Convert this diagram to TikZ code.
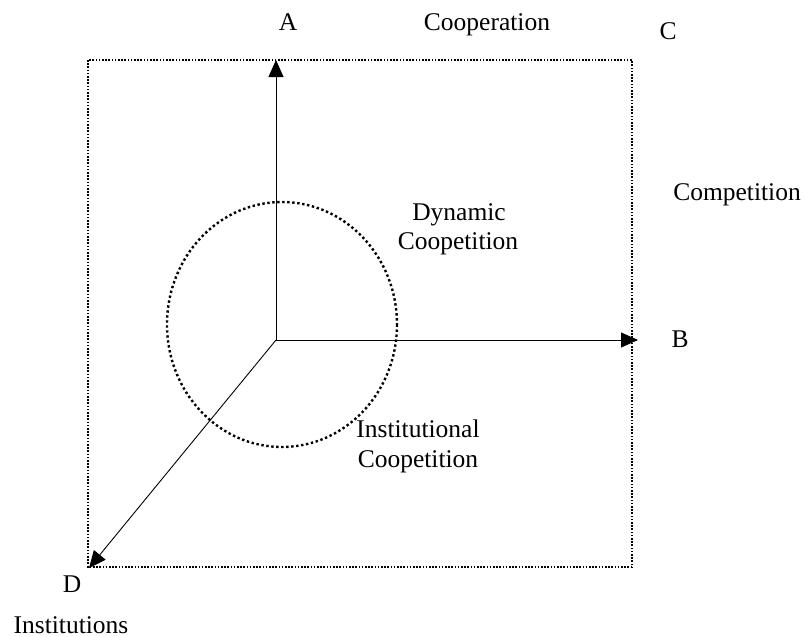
\documentclass[tikz,border=0pt]{standalone}
\usepackage{fontspec}
\setmainfont{Liberation Serif}
\usetikzlibrary{arrows.meta}
\begin{document}
\begin{tikzpicture}[x=1pt,y=-1pt,
  lbl/.style={inner sep=0pt,anchor=base,font=\fontsize{25.5}{28}\selectfont},
  axis/.style={line width=0.9pt,-{Triangle[length=17pt,width=15pt]}},
  frame/.style={line width=1.6pt,dash pattern=on 1.6pt off 1.6pt},
  ring/.style={line width=2.4pt,dash pattern=on 2.4pt off 2.6pt}]
\useasboundingbox (0,0) rectangle (806,637);
\draw[frame] (88,60) rectangle (632,567);
\draw[ring] (282,324.5) ellipse [x radius=115, y radius=122.5];
\coordinate (O) at (276,340);
\coordinate (Aend) at (276,60);
\coordinate (Bend) at (638,340);
\coordinate (Dend) at (89,568);
\draw[axis] (O) -- (Aend);
\draw[axis] (O) -- (Bend);
\draw[axis] (O) -- (Dend);
\node[lbl] (A) at (288,30) {A};
\node[lbl] (coop) at (487,30) {Cooperation};
\node[lbl] (C) at (668,39) {C};
\node[lbl] (comp) at (737,200) {Competition};
\node[lbl] (dyn1) at (459,220) {Dynamic};
\node[lbl] (dyn2) at (458,249) {Coopetition};
\node[lbl] (B) at (680,347) {B};
\node[lbl] (ins1) at (418,437) {Institutional};
\node[lbl] (ins2) at (418,467) {Coopetition};
\node[lbl] (D) at (72,592) {D};
\node[lbl] (inst) at (71,633) {Institutions};
\end{tikzpicture}
\end{document}
